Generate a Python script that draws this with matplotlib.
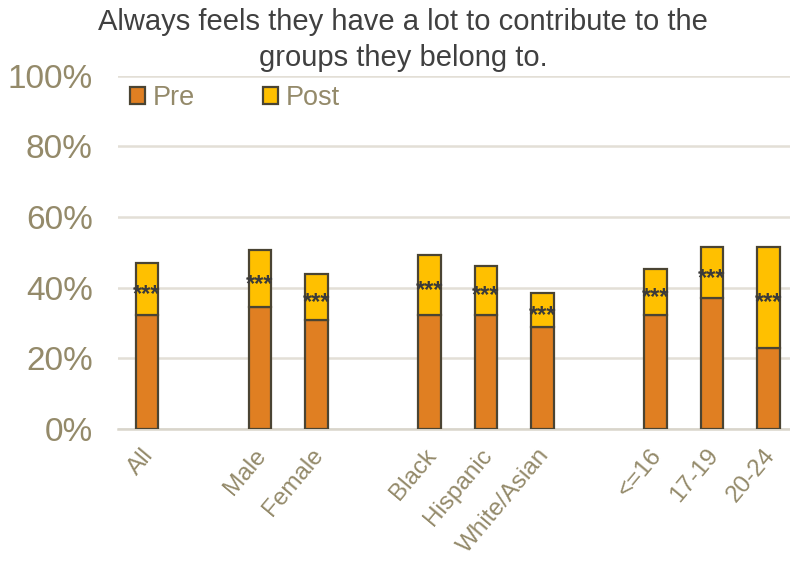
import numpy as np
import matplotlib.pyplot as plt
import matplotlib.transforms as mtransforms

plt.rcParams['font.family'] = ['Liberation Sans', 'DejaVu Sans']

# groups, with blank slots between them
categories = ['All', '', 'Male', 'Female', '', 'Black', 'Hispanic', 'White/Asian', '',
              '<=16', '17-19', '20-24']
pre = [32.3, None, 34.5, 30.9, None, 32.3, 32.3, 29.0, None, 32.3, 37.0, 23.1]
post = [47.0, None, 50.7, 43.8, None, 49.3, 46.2, 38.6, None, 45.3, 51.6, 51.6]
sig = ['***', '', '***', '***', '', '***', '***', '***', '', '***', '***', '***']

pre_col = '#E07F22'
post_col = '#FFC000'
edge_col = '#4A4433'
tick_col = '#948A6A'

fig = plt.figure(figsize=(7.9, 5.61), dpi=100)
ax = fig.add_axes([0.149, 0.235, 0.851, 0.63])

x = np.arange(len(categories))
idx = [i for i, v in enumerate(pre) if v is not None]
xs = x[idx]
pre_v = np.array([pre[i] for i in idx]) / 100
post_v = np.array([post[i] for i in idx]) / 100

ax.bar(xs, pre_v, width=0.4, color=pre_col, edgecolor=edge_col, linewidth=1.6,
       label='Pre', zorder=3)
ax.bar(xs, post_v - pre_v, width=0.4, bottom=pre_v, color=post_col,
       edgecolor=edge_col, linewidth=1.6, label='Post', zorder=3)

# significance stars in the middle of the post segment
for i, xi in zip(idx, xs):
    mid = (pre[i] + post[i]) / 200
    ax.annotate(sig[i], (xi, mid), xytext=(0, -4), textcoords='offset points',
                ha='center', va='center', fontsize=17, color='#3A3A3A',
                fontweight='bold', zorder=4)

ax.set_ylim(0, 1.0)
ax.set_xlim(-0.52, 11.38)
ax.set_yticks(np.arange(0, 1.01, 0.2))
ax.set_yticklabels([f'{int(round(v * 100))}%' for v in np.arange(0, 1.01, 0.2)])
ax.yaxis.grid(True, color='#E3DFD6', linewidth=1.8, zorder=0)
ax.set_axisbelow(True)

ax.set_xticks(xs)
ax.set_xticklabels([categories[i] for i in idx], rotation=50, ha='right', va='top',
                   rotation_mode='anchor')
ax.tick_params(axis='x', length=0, pad=11, labelsize=17.5, colors=tick_col)
ax.tick_params(axis='y', length=0, pad=18, labelsize=24, colors=tick_col)
shift = mtransforms.ScaledTranslation(-6 / 100, 0, fig.dpi_scale_trans)
for lab in ax.get_xticklabels():
    lab.set_transform(lab.get_transform() + shift)

for s in ['top', 'right', 'left']:
    ax.spines[s].set_visible(False)
ax.spines['bottom'].set_color('#D9D5CB')
ax.spines['bottom'].set_linewidth(1.8)

leg = ax.legend(loc='upper left', bbox_to_anchor=(-0.01, 1.027), ncol=2, frameon=False,
                fontsize=19.5, handlelength=0.55, handleheight=0.55, handletextpad=0.3,
                columnspacing=2.5, borderaxespad=0.3)
for t in leg.get_texts():
    t.set_color(tick_col)

fig.text(0.51, 0.985, 'Always feels they have a lot to contribute to the\ngroups they belong to.',
         ha='center', va='top', fontsize=21, color='#404040', linespacing=1.35)

fig.savefig('out.png', dpi=100)
